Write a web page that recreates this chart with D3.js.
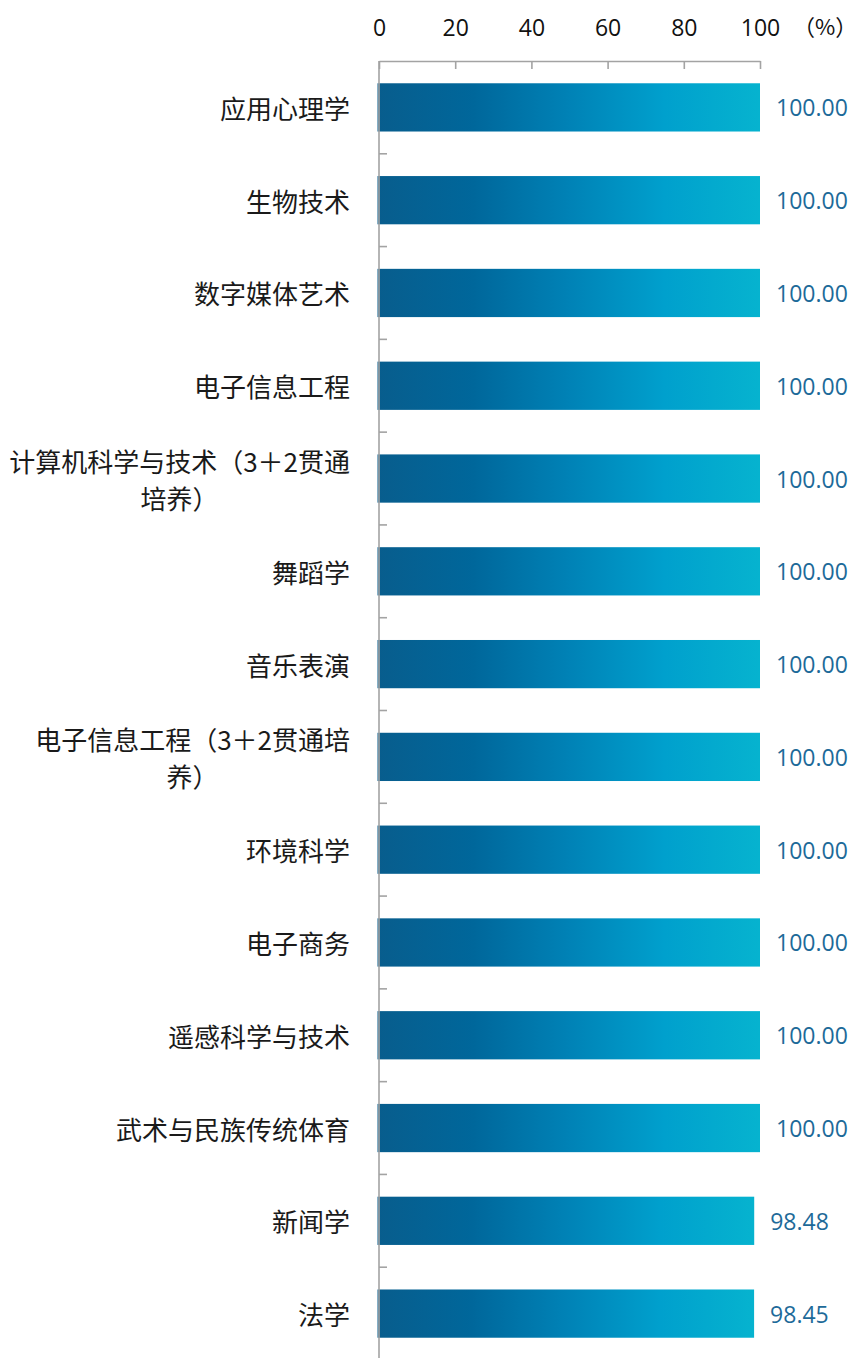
<!DOCTYPE html>
<html>
<head>
<meta charset="utf-8">
<script src="https://cdn.jsdelivr.net/npm/d3@7"></script>
<style>
  html, body { margin: 0; padding: 0; background: #fff; }
  svg { display: block; }
</style>
</head>
<body>
<div id="chart"></div>
<script>
const categories = [
  "应用心理学",
  "生物技术",
  "数字媒体艺术",
  "电子信息工程",
  "计算机科学与技术（3＋2贯通培养）",
  "舞蹈学",
  "音乐表演",
  "电子信息工程（3＋2贯通培养）",
  "环境科学",
  "电子商务",
  "遥感科学与技术",
  "武术与民族传统体育",
  "新闻学",
  "法学"
];
const values = [100.00, 100.00, 100.00, 100.00, 100.00, 100.00, 100.00, 100.00, 100.00, 100.00, 100.00, 100.00, 98.48, 98.45];
const xTicks = [0, 20, 40, 60, 80, 100];
const unitLabel = "（%）";

const W = 858, H = 1358;
const svg = d3.select("#chart").append("svg").attr("width", W).attr("height", H);

const defs = svg.append("defs");
const grad = defs.append("linearGradient").attr("id", "barGrad")
  .attr("x1", "0%").attr("x2", "100%").attr("y1", "0%").attr("y2", "0%");
[[0, "#085d8d"], [0.25, "#00679b"], [0.5, "#0082b6"], [0.75, "#00a0cd"], [1, "#06b3cf"]]
  .forEach(([o, c]) => grad.append("stop").attr("offset", o).attr("stop-color", c));

const x = d3.scaleLinear().domain([0, 100]).range([379, 760]);
const y = d3.scaleBand().domain(categories).range([61, 1360]).paddingInner(0.48).paddingOuter(0.24);

const axisColor = "#a3a3a3";
const numFont = "'Open Sans', 'Noto Sans', sans-serif";
const cjkFont = "'Noto Sans CJK SC', sans-serif";

// bars
svg.append("g").selectAll("rect").data(categories).join("rect")
  .attr("x", x(0) - 1.5)
  .attr("y", d => y(d))
  .attr("width", (d, i) => x(values[i]) - x(0) + 1.5)
  .attr("height", y.bandwidth())
  .attr("fill", "url(#barGrad)");

// top axis
const xAxis = d3.axisTop(x).tickValues(xTicks).tickSize(-8).tickPadding(0).tickSizeOuter(0);
const gx = svg.append("g").attr("transform", `translate(0,61)`).call(xAxis);
gx.select(".domain").attr("stroke", axisColor).attr("stroke-width", 1.6);
gx.selectAll(".tick line").attr("stroke", axisColor).attr("stroke-width", 1.6);
gx.selectAll(".tick text")
  .attr("y", -25).attr("dy", 0)
  .attr("fill", "#111").attr("font-size", 23).attr("font-family", numFont);

svg.append("text").attr("x", 793).attr("y", 35)
  .attr("font-family", cjkFont).attr("font-size", 22).attr("fill", "#111")
  .text(unitLabel);

// left axis line and ticks at category boundaries
const step = y.step();
const boundaries = categories.map(d => y(d) + y.bandwidth() / 2 + step / 2);
const gy = svg.append("g");
gy.append("line").attr("x1", x(0)).attr("x2", x(0)).attr("y1", 61).attr("y2", H)
  .attr("stroke", axisColor).attr("stroke-width", 1.6);
gy.selectAll("line.tk").data(boundaries).join("line").attr("class", "tk")
  .attr("x1", x(0)).attr("x2", x(0) + 8)
  .attr("y1", d => d).attr("y2", d => d)
  .attr("stroke", axisColor).attr("stroke-width", 1.6);

// category labels with wrapping (closing punctuation cannot start a line)
const maxW = 350;
const noStart = "）)，。、";
const labelG = svg.append("g");
categories.forEach((c, i) => {
  const cy = y(c) + y.bandwidth() / 2;
  const t = labelG.append("text")
    .attr("font-family", cjkFont).attr("font-size", 26).attr("fill", "#1a1a1a")
    .attr("text-anchor", "middle");
  const probe = t.append("tspan");
  const lines = [];
  let cur = "";
  const chars = Array.from(c);
  for (let k = 0; k < chars.length; k++) {
    const test = cur + chars[k];
    probe.text(test);
    if (probe.node().getComputedTextLength() > maxW && cur.length) {
      if (noStart.includes(chars[k]) && cur.length > 1) {
        const last = cur.slice(-1);
        lines.push(cur.slice(0, -1));
        cur = last + chars[k];
      } else {
        lines.push(cur);
        cur = chars[k];
      }
    } else cur = test;
  }
  lines.push(cur);
  probe.remove();
  const widths = lines.map(l => { const p = t.append("tspan").text(l); const w = p.node().getComputedTextLength(); p.remove(); return w; });
  const maxLine = d3.max(widths);
  const centerX = 350 - maxLine / 2;
  const lh = 37;
  lines.forEach((l, k) => {
    t.append("tspan").attr("x", centerX)
      .attr("y", cy + (k - (lines.length - 1) / 2) * lh)
      .attr("dominant-baseline", "central")
      .text(l);
  });
});

// value labels
svg.append("g").selectAll("text").data(categories).join("text")
  .attr("x", (d, i) => x(values[i]) + 16)
  .attr("y", d => y(d) + y.bandwidth() / 2 + 9)
  .attr("font-family", numFont).attr("font-size", 23).attr("fill", "#1d6a99")
  .text((d, i) => values[i].toFixed(2));
</script>
</body>
</html>
